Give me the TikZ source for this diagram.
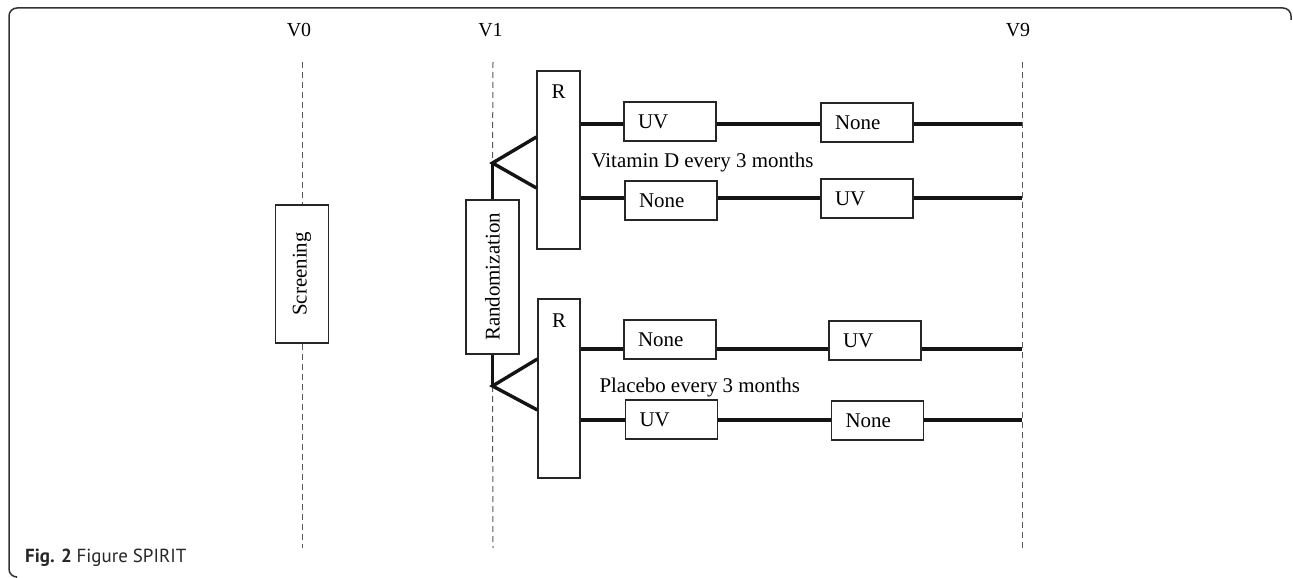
\documentclass[tikz,border=0pt]{standalone}
\usepackage{fontspec}
\setmainfont{Liberation Serif}
\newfontfamily\capfont{PT Sans}
\usetikzlibrary{calc}
\begin{document}
\begin{tikzpicture}[x=1bp,y=-1bp,
  box/.style={draw=black!85, line width=1.2bp, fill=white, inner sep=0pt, font=\fontsize{21}{25}\selectfont},
  armbox/.style={box, minimum height=39bp, text width=64bp, inner xsep=14bp, align=left},
  armline/.style={line width=3.4bp, draw=black!92, line join=miter},
  vline/.style={dash pattern=on 6bp off 4bp, line width=1bp, draw=black!65},
  vlab/.style={anchor=base, font=\fontsize{20}{24}\selectfont},
  armtext/.style={anchor=base west, font=\fontsize{21}{25}\selectfont},
  frame/.style={draw=black!80, line width=1.5bp, rounded corners=8bp}
]
\useasboundingbox (0,0) rectangle (1293,578);
% frame
\coordinate (f1) at (1291,20);
\coordinate (f2) at (1291,8);
\coordinate (f3) at (9,8);
\coordinate (f4) at (9,577);
\coordinate (f5) at (16,577);
\draw[frame] (f1) -- (f2) -- (f3) -- (f4) -- (f5);

% visit labels
\node[vlab] (V0) at (299,37) {V0};
\node[vlab] (V1) at (490.5,37) {V1};
\node[vlab] (V9) at (1018,37) {V9};

% vertical line ends
\coordinate (v0t) at (302,62);
\coordinate (v0b) at (302,548);
\coordinate (v1t) at (493,62);
\coordinate (v1b) at (493,548);
\coordinate (v9t) at (1022,62);
\coordinate (v9b) at (1022,548);

% main boxes
\node[box, rotate=90, minimum width=138bp, minimum height=53bp] (scr) at (302,274) {Screening};
\node[box, rotate=90, minimum width=154bp, minimum height=53bp] (rand) at (492.5,277) {Randomization};
\node[box, minimum width=43bp, minimum height=178bp] (R1) at (558.5,160) {};
\node[box, minimum width=42bp, minimum height=179bp] (R2) at (559,388.5) {};
\node[anchor=base, font=\fontsize{21}{25}\selectfont] (R1t) at ($(R1.north)+(0,28)$) {R};
\node[anchor=base, font=\fontsize{21}{25}\selectfont] (R2t) at ($(R2.north)+(0,29)$) {R};

% dashed visit lines
\coordinate (bp1) at (rand.east |- 0,163);
\coordinate (bp2) at (rand.west |- 0,386);
\draw[vline] (v0t) -- (scr.east);
\draw[vline] (scr.west) -- (v0b);
\draw[vline] (v1t) -- (bp1);
\draw[vline] (bp2) -- (v1b);
\draw[vline] (v9t) -- (v9b);

% branches
\draw[armline] (rand.east) -- (bp1);
\draw[armline] (R1.west |- 0,137) -- (bp1) -- (R1.west |- 0,188);
\draw[armline] (rand.west) -- (bp2);
\draw[armline] (R2.west |- 0,359) -- (bp2) -- (R2.west |- 0,410);

% arm lines y
\coordinate (l1) at (0,124);
\coordinate (l2) at (0,198);
\coordinate (l3) at (0,349);
\coordinate (l4) at (0,420);

% arm boxes
\node[armbox] (b11) at (670,121.5) {UV};
\node[armbox] (b12) at (867,122.5) {None};
\node[armbox] (b21) at (671,200.5) {None};
\node[armbox] (b22) at (867,198.5) {UV};
\node[armbox] (b31) at (670,339.5) {None};
\node[armbox] (b32) at (875,340.5) {UV};
\node[armbox] (b41) at (671.5,419.5) {UV};
\node[armbox] (b42) at (877.5,420.5) {None};

% arm lines
\draw[armline] (R1.east |- l1) -- (b11.west |- l1);
\draw[armline] (b11.east |- l1) -- (b12.west |- l1);
\draw[armline] (b12.east |- l1) -- (v9t |- l1);
\draw[armline] (R1.east |- l2) -- (b21.west |- l2);
\draw[armline] (b21.east |- l2) -- (b22.west |- l2);
\draw[armline] (b22.east |- l2) -- (v9t |- l2);
\draw[armline] (R2.east |- l3) -- (b31.west |- l3);
\draw[armline] (b31.east |- l3) -- (b32.west |- l3);
\draw[armline] (b32.east |- l3) -- (v9t |- l3);
\draw[armline] (R2.east |- l4) -- (b41.west |- l4);
\draw[armline] (b41.east |- l4) -- (b42.west |- l4);
\draw[armline] (b42.east |- l4) -- (v9t |- l4);

% arm texts
\node[armtext] (vitd) at (588,168) {Vitamin D every 3 months};
\node[armtext] (plac) at (596,392) {Placebo every 3 months};

% caption
\node[anchor=base west, text=black!85, inner sep=0pt] (cap) at (25,562) {\capfont\fontsize{19}{22}\selectfont\bfseries Fig. 2 \mdseries Figure SPIRIT};
\end{tikzpicture}
\end{document}
